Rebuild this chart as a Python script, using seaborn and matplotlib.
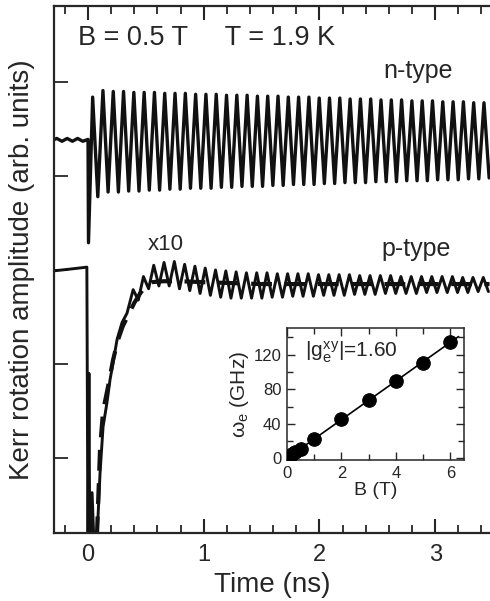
import numpy as np
import pandas as pd
import matplotlib
matplotlib.use("Agg")
import matplotlib.pyplot as plt
from matplotlib.ticker import MultipleLocator, FixedLocator, NullFormatter
import seaborn as sns

# ---------------- data ----------------
# n-type trace (arb. units); extrema of the precession
n_pre_t = [-0.30, -0.27, -0.225, -0.18, -0.135, -0.09, -0.045, 0.0, 0.004]
n_pre_y = [3.385, 3.40, 3.37, 3.40, 3.37, 3.40, 3.37, 3.39, 2.29]
n_first_peak_t = 0.040
half_period = 0.0445          # ns (11.2 GHz precession at 0.5 T)
n_peaks = [3.84, 3.91, 3.90, 3.90, 3.89, 3.89, 3.89, 3.88, 3.88, 3.88,
           3.87, 3.87, 3.87, 3.86, 3.86, 3.86, 3.85, 3.85, 3.85, 3.84,
           3.84, 3.84, 3.83, 3.83, 3.83, 3.82, 3.82, 3.82, 3.81, 3.81,
           3.81, 3.80, 3.80, 3.80, 3.79, 3.79, 3.79, 3.78, 3.78]
n_troughs = [2.78, 2.83, 2.83, 2.84, 2.84, 2.85, 2.85, 2.86, 2.86, 2.87,
             2.87, 2.87, 2.88, 2.88, 2.89, 2.89, 2.89, 2.90, 2.90, 2.91,
             2.91, 2.91, 2.92, 2.92, 2.93, 2.93, 2.93, 2.94, 2.94, 2.94,
             2.95, 2.95, 2.95, 2.96, 2.96, 2.96, 2.97, 2.97, 2.98]

# p-type trace (x10)
p_pre_t = [-0.30, -0.15, -0.01, 0.0, 0.008, 0.016, 0.035, 0.06, 0.078,
           0.104, 0.13, 0.164, 0.19, 0.216, 0.251, 0.294, 0.337]
p_pre_y = [1.99, 2.01, 2.03, -1.2, 0.90, -1.2, -0.37, -1.2, -0.85,
           -0.16, 0.33, 0.59, 0.83, 1.01, 1.26, 1.44, 1.54]
p_first_peak_t = 0.39
p_peaks = [1.79, 1.93, 2.05, 2.08, 2.09, 2.06, 2.04, 2.02, 2.00, 1.99,
           1.98, 1.97, 1.97, 1.97, 1.96, 1.96, 1.96, 1.96, 1.95, 1.95,
           1.95, 1.95, 1.94, 1.94, 1.94, 1.94, 1.93, 1.93, 1.93, 1.93,
           1.93, 1.93, 1.92, 1.92, 1.92]
p_troughs = [1.68, 1.80, 1.83, 1.83, 1.80, 1.78, 1.75, 1.73, 1.71, 1.70,
             1.70, 1.70, 1.70, 1.71, 1.71, 1.72, 1.72, 1.72, 1.73, 1.73,
             1.73, 1.74, 1.74, 1.74, 1.75, 1.75, 1.75, 1.75, 1.76, 1.76,
             1.76, 1.76, 1.76, 1.77, 1.77]

# p-type fit (dashed)
fit_t = [0.062, 0.078, 0.104, 0.13, 0.17, 0.216, 0.26, 0.30, 0.34, 0.40,
         0.45, 0.50, 0.55, 0.65, 0.80, 1.0, 1.5, 2.0, 2.5, 3.0, 3.47]
fit_y = [-1.2, -0.80, 0.10, 0.50, 0.74, 1.04, 1.26, 1.40, 1.50, 1.65,
         1.75, 1.83, 1.87, 1.88, 1.88, 1.87, 1.85, 1.85, 1.85, 1.85, 1.85]

# inset: precession frequency vs field
inset_B = [0.1, 0.2, 0.3, 0.5, 1, 2, 3, 4, 5, 6]
inset_w = [2.2, 4.5, 6.7, 11.2, 22.4, 45, 67, 89, 111, 134.5]
inset_fit_B = [0.0, 6.3]
inset_fit_w = [0.0, 141.1]

x_ticks = [0, 1, 2, 3]
y_ticks = [0, 1, 2, 3, 4]


def interleave(t0, a, b):
    ys = []
    for i in range(max(len(a), len(b))):
        if i < len(a):
            ys.append(a[i])
        if i < len(b):
            ys.append(b[i])
    ts = t0 + half_period * np.arange(len(ys))
    return list(ts), ys


# ---------------- style ----------------
sns.set_style("ticks")
plt.rcParams['font.family'] = ['Liberation Sans', 'DejaVu Sans']
plt.rcParams['mathtext.fontset'] = 'custom'
plt.rcParams['mathtext.rm'] = 'Liberation Sans'
plt.rcParams['mathtext.it'] = 'Liberation Sans'
plt.rcParams['mathtext.bf'] = 'Liberation Sans:bold'
plt.rcParams['xtick.direction'] = 'in'
plt.rcParams['ytick.direction'] = 'in'
plt.rcParams['lines.solid_joinstyle'] = 'round'
plt.rcParams['lines.solid_capstyle'] = 'round'

fig = plt.figure(figsize=(4.9, 6.01), dpi=100)
ax = fig.add_axes([54 / 490, (601 - 533) / 601, 436 / 490, 527 / 601])

nt, ny = interleave(n_first_peak_t, n_peaks, n_troughs)
n_df = pd.DataFrame({"t": n_pre_t + nt, "y": n_pre_y + ny})
pt, py = interleave(p_first_peak_t, p_peaks, p_troughs)
p_df = pd.DataFrame({"t": p_pre_t + pt, "y": p_pre_y + py})
f_df = pd.DataFrame({"t": fit_t, "y": fit_y})

sns.lineplot(data=n_df, x="t", y="y", ax=ax, color="#111111", linewidth=2.4,
             sort=False, estimator=None)
sns.lineplot(data=p_df, x="t", y="y", ax=ax, color="#111111", linewidth=2.1,
             sort=False, estimator=None)
sns.lineplot(data=f_df, x="t", y="y", ax=ax, color="#111111", linewidth=3.0,
             sort=False, estimator=None, linestyle=(0, (5, 3)))

ax.set_xlim(-0.294, 3.474)
ax.set_ylim(-0.8, 4.81)
ax.xaxis.set_major_locator(FixedLocator(x_ticks))
ax.xaxis.set_minor_locator(MultipleLocator(0.2))
ax.set_xticklabels([str(v) for v in x_ticks])
ax.yaxis.set_major_locator(FixedLocator(y_ticks))
ax.yaxis.set_major_formatter(NullFormatter())
ax.tick_params(axis='x', which='major', length=10, width=1.5, top=True,
               labelsize=17, pad=8)
ax.tick_params(axis='x', which='minor', length=6, width=1.3, top=True)
ax.tick_params(axis='y', which='major', length=10, width=1.3, right=False)
for s in ['left', 'bottom', 'top']:
    ax.spines[s].set_linewidth(1.6)
ax.spines['right'].set_visible(False)
ax.set_xlabel("Time (ns)", fontsize=20, labelpad=4)
ax.set_ylabel("Kerr rotation amplitude (arb. units)", fontsize=20, labelpad=10)

ax.text(-0.086, 4.39, "B = 0.5 T     T = 1.9 K", fontsize=19.5, va='baseline')
ax.text(2.55, 4.04, "n-type", fontsize=18, va='baseline')
ax.text(2.54, 2.15, "p-type", fontsize=18, va='baseline')
ax.text(0.52, 2.21, "x10", fontsize=16, va='baseline')

# ---------------- inset ----------------
ax2 = fig.add_axes([287 / 490, (601 - 460) / 601, 177 / 490, 132 / 601])
sns.lineplot(x=inset_fit_B, y=inset_fit_w, ax=ax2, color="black",
             linewidth=1.2)
sns.scatterplot(x=inset_B, y=inset_w, ax=ax2, color="black", s=95,
                edgecolor="black", zorder=3)
ax2.set_xlim(0, 6.5)
ax2.set_ylim(-2, 151)
ax2.xaxis.set_major_locator(MultipleLocator(2))
ax2.xaxis.set_minor_locator(MultipleLocator(1))
ax2.yaxis.set_major_locator(MultipleLocator(40))
ax2.yaxis.set_minor_locator(MultipleLocator(20))
ax2.tick_params(which='both', top=True, right=True, labelsize=12, pad=4)
ax2.tick_params(which='major', length=6, width=1.0)
ax2.tick_params(which='minor', length=4, width=1.0)
for s in ax2.spines.values():
    s.set_linewidth(1.1)
ax2.set_xlabel("B (T)", fontsize=14, labelpad=1)
ax2.set_ylabel(r"$\omega_e$ (GHz)", fontsize=15, labelpad=2)
ax2.text(0.65, 117, r"$|g_e^{xy}|$=1.60", fontsize=15, va='baseline')

fig.savefig("out.png", dpi=100)
